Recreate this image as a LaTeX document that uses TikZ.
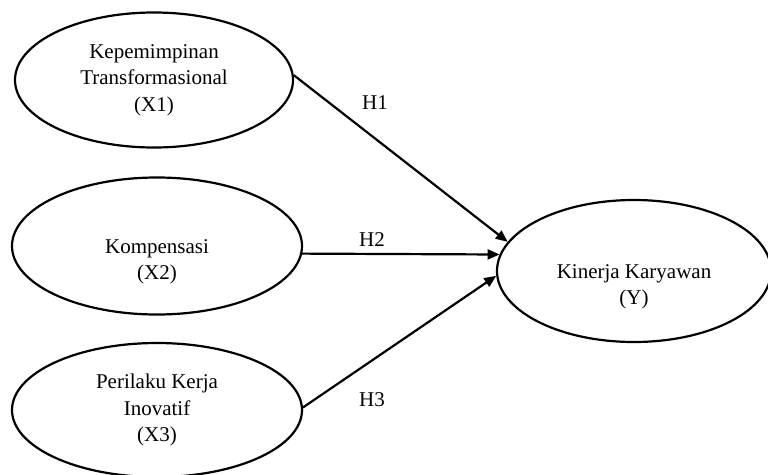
\documentclass[tikz,border=0pt]{standalone}
\usepackage{fontspec}
\setmainfont{Liberation Serif}
\usetikzlibrary{shapes.geometric,arrows.meta}
\tikzset{
  var/.style={draw, ellipse, line width=2.2pt, inner sep=0pt, align=center,
    font=\fontsize{21}{26.5}\selectfont},
  hyp/.style={font=\fontsize{21}{25}\selectfont},
}
\begin{document}
\begin{tikzpicture}[x=1pt,y=-1pt]
      \useasboundingbox (0,0) rectangle (768,474);
      \draw
        (154,80) node[var, minimum width=278pt, minimum height=135pt] (x1) {Kepemimpinan\\Transformasional\\(X1)}
        (157,246) node[var, minimum width=290pt, minimum height=137pt] (x2) {\strut\\Kompensasi\\(X2)}
        (157,410) node[var, minimum width=290pt, minimum height=134pt] (x3) {Perilaku Kerja\\Inovatif\\(X3)}
        (634,271) node[var, minimum width=274pt, minimum height=142pt] (y) {\strut\\Kinerja Karyawan\\(Y)};
      \draw
        (375,103) node[hyp] (h1) {H1}
        (372,240) node[hyp] (h2) {H2}
        (372,400) node[hyp] (h3) {H3};
      \begin{scope}[-{Triangle[length=12pt,width=10pt]}, line width=2.2pt]
        \draw (x1.2) to (y.167);
        \draw (x2.-3.6) to (y.173);
        \draw (x3.1) to (y.182);
      \end{scope}
    \end{tikzpicture}
\end{document}
